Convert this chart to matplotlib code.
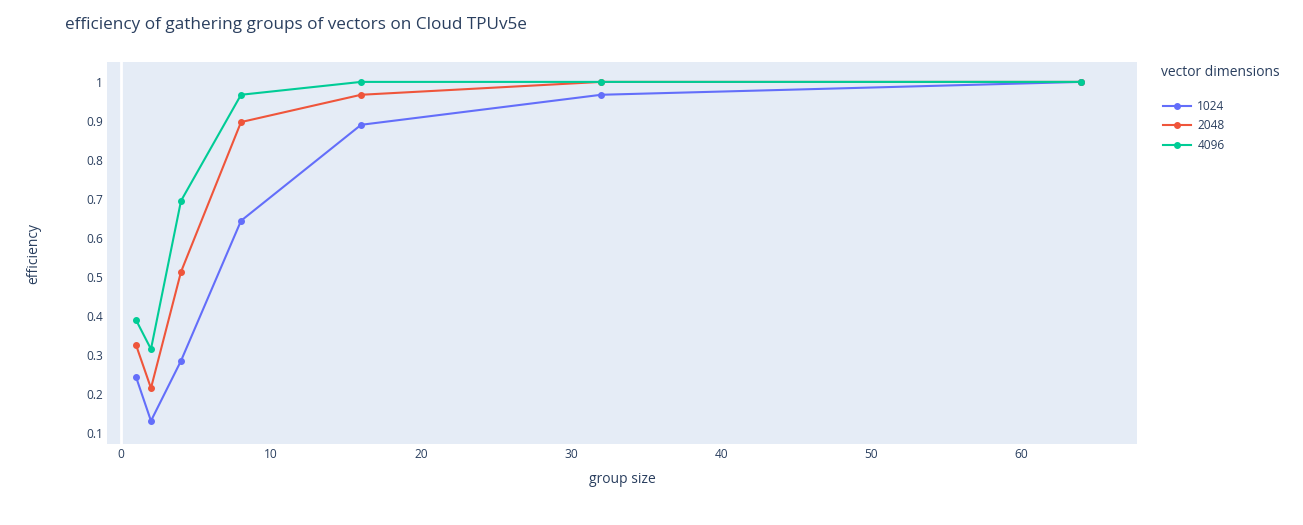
import matplotlib.pyplot as plt
from matplotlib.ticker import FuncFormatter

group_size = [1, 2, 4, 8, 16, 32, 64]
eff_1024 = [0.244, 0.131, 0.285, 0.644, 0.890, 0.967, 1.0]
eff_2048 = [0.326, 0.215, 0.513, 0.897, 0.967, 1.0, 1.0]
eff_4096 = [0.390, 0.315, 0.695, 0.967, 1.0, 1.0, 1.0]
series_names = ['1024', '2048', '4096']
colors = ['#636EFA', '#EF553B', '#00CC96']

plt.rcParams['font.family'] = ['Open Sans', 'DejaVu Sans']
text_color = '#2a3f5f'

fig = plt.figure(figsize=(13.03, 5.25), dpi=100)
ax = fig.add_axes([107/1303, 1 - 444/525, 1030/1303, 382/525])
ax.set_facecolor('#E5ECF6')

for ys, name, c in zip([eff_1024, eff_2048, eff_4096], series_names, colors):
    ax.plot(group_size, ys, color=c, lw=1.5, marker='o', markersize=4, label=name)

ax.axvline(0, color='white', lw=2, zorder=0.5)
ax.set_xlim(-0.93, 67.7)
ax.set_ylim(0.0718, 1.051)
ax.set_xticks([0, 10, 20, 30, 40, 50, 60])
ax.set_yticks([0.1, 0.2, 0.3, 0.4, 0.5, 0.6, 0.7, 0.8, 0.9, 1.0])
ax.yaxis.set_major_formatter(FuncFormatter(lambda v, p: '1' if abs(v - 1) < 1e-9 else '%.1f' % v))
ax.tick_params(axis='y', length=0, labelsize=8.6, colors=text_color, pad=3)
ax.tick_params(axis='x', length=0, labelsize=8.6, colors=text_color, pad=3)
for s in ax.spines.values():
    s.set_visible(False)

ax.set_xlabel('group size', fontsize=10, color=text_color, labelpad=8)
ax.set_ylabel('efficiency', fontsize=10, color=text_color, labelpad=32)
fig.text(65/1303, 1 - 25/525, 'efficiency of gathering groups of vectors on Cloud TPUv5e',
         fontsize=12.3, color=text_color, va='center', ha='left')

fig.text(1161/1303, 1 - 73/525, 'vector dimensions', fontsize=10, color=text_color,
         va='center', ha='left')
leg = ax.legend(loc='upper left',
                bbox_to_anchor=(1158/1303, 1 - 95/525), bbox_transform=fig.transFigure,
                frameon=False, fontsize=8.6,
                handlelength=2.4, labelspacing=0.55, borderaxespad=0, handletextpad=0.5)
for t in leg.get_texts():
    t.set_color(text_color)

fig.savefig('out.png', dpi=100, facecolor='white')
